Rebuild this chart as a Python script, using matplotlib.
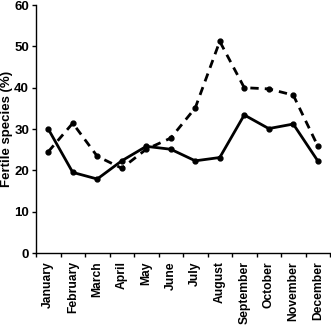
import matplotlib
matplotlib.use("Agg")
import matplotlib.pyplot as plt
import numpy as np

plt.rcParams["font.family"] = ["Liberation Sans", "DejaVu Sans"]
plt.rcParams["font.weight"] = "bold"

months = ["January", "February", "March", "April", "May", "June", "July",
          "August", "September", "October", "November", "December"]
solid_vals = [30.0, 19.5, 17.9, 22.3, 25.8, 25.1, 22.3, 23.1, 33.4, 30.1, 31.2, 22.3]
dashed_vals = [24.5, 31.4, 23.4, 20.5, 25.1, 27.8, 35.1, 51.2, 40.0, 39.7, 38.2, 25.9]
y_ticks = [0, 10, 20, 30, 40, 50, 60]

fig = plt.figure(figsize=(3.31, 3.25), dpi=100)
ax = fig.add_axes([36 / 331, 1 - 253 / 325, 294 / 331, 248 / 325])

x = np.arange(len(months))
ax.plot(x, dashed_vals, color="black", lw=2, ls=(0, (3, 2.2)),
        marker="o", ms=3.5)
ax.plot(x, solid_vals, color="black", lw=2, marker="o", ms=3.5)

ax.set_xlim(-0.5, len(months) - 0.5)
ax.set_ylim(0, 60)
ax.set_yticks(y_ticks)
ax.set_xticks(x)
ax.set_xticklabels(months, rotation=90, fontsize=8.7, fontweight="bold")
ax.tick_params(axis="x", which="major", length=0, pad=6)
ax.set_xticks(np.arange(-0.5, len(months)), minor=True)
ax.tick_params(axis="x", which="minor", length=3, width=1, direction="out")
ax.tick_params(axis="y", length=3, width=1, labelsize=9.5, pad=2)
for lab in ax.get_yticklabels():
    lab.set_fontweight("bold")

ax.set_ylabel("Fertile species (%)", fontsize=9.5, fontweight="bold")
ax.yaxis.set_label_coords(-0.077, 0.5)

ax.spines["top"].set_visible(False)
ax.spines["right"].set_visible(False)
ax.spines["left"].set_linewidth(1)
ax.spines["bottom"].set_linewidth(1)

fig.savefig("out.png", dpi=100)
